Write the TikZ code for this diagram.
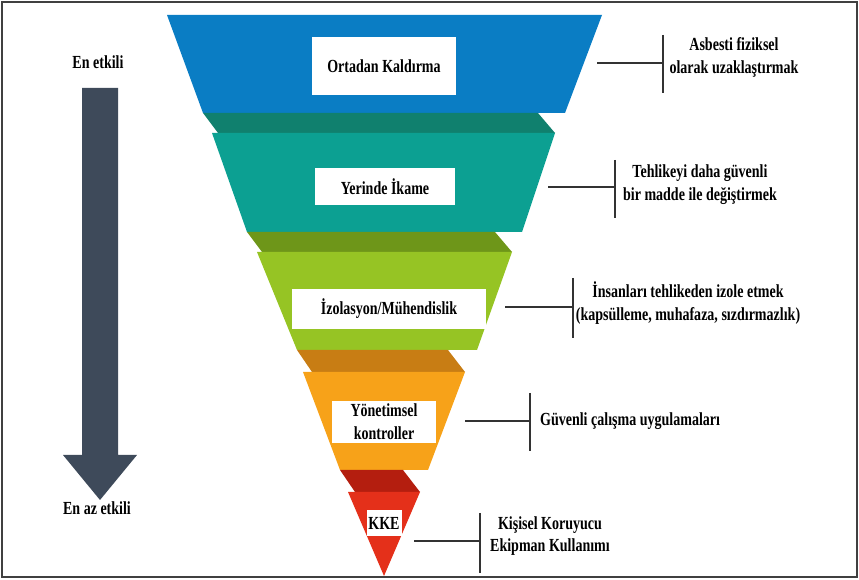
\documentclass[tikz,border=0pt]{standalone}
\usepackage{fontspec}
\setmainfont{Liberation Serif}[FakeStretch=0.76]
\usetikzlibrary{positioning,calc}

\definecolor{BlueTop}{HTML}{0A7DC4}
\definecolor{TealLid}{HTML}{10806E}
\definecolor{TealTop}{HTML}{0CA092}
\definecolor{GreenLid}{HTML}{6E9619}
\definecolor{GreenTop}{HTML}{96C424}
\definecolor{OrangeLid}{HTML}{C87D14}
\definecolor{OrangeTop}{HTML}{F7A219}
\definecolor{RedLid}{HTML}{B41E0F}
\definecolor{RedTop}{HTML}{E4301A}
\definecolor{ArrowGray}{HTML}{3E4A5A}

\begin{document}
\begin{tikzpicture}[x=0.02cm, y=-0.02cm,
    every node/.style={font=\fontsize{10.5}{13}\selectfont\bfseries},
    box/.style={fill=white, inner sep=0pt, align=center},
    desc/.style={align=center, inner sep=1pt},
    tick/.style={line width=0.9pt, black!80}]
    \useasboundingbox (0,0) rectangle (859,580);
    \draw[line width=1pt, black!75] (2,2) rectangle (857,577);

    % funnel layers, top to bottom
    \fill[BlueTop] (167,15) -- (602,15) -- (565,113) -- (203,113) -- cycle;
    \fill[TealLid] (203,113) -- (538,113) -- (555,133) -- (218,133) -- cycle;
    \fill[TealTop] (212,133) -- (555,133) -- (522,232) -- (247,232) -- cycle;
    \fill[GreenLid] (247,232) -- (495,232) -- (512,252) -- (262,252) -- cycle;
    \fill[GreenTop] (257,252) -- (512,252) -- (477,350) -- (297,350) -- cycle;
    \fill[OrangeLid] (297,350) -- (448,350) -- (465,372) -- (312,372) -- cycle;
    \fill[OrangeTop] (303,372) -- (465,372) -- (428,470) -- (340,470) -- cycle;
    \fill[RedLid] (340,470) -- (403,470) -- (420,492) -- (355,492) -- cycle;
    \fill[RedTop] (348,492) -- (420,492) -- (384,576) -- cycle;

    % labels on the layers
    \node[box, minimum width=2.9cm, minimum height=1.16cm] (Ortadan) at (384,66) {Ortadan Kaldırma};
    \node[box, minimum width=2.82cm, minimum height=0.74cm] (Ikame) at (385,187) {Yerinde İkame};
    \node[box, minimum width=3.9cm, minimum height=0.8cm] (Izolasyon) at (389,309) {İzolasyon/Mühendislik};
    \node[box, minimum width=2.08cm, minimum height=0.84cm] (Yonetim) at (384,422) {Yönetimsel\\kontroller};
    \node[box, minimum width=0.7cm, minimum height=0.54cm] (KKE) at (384,523) {KKE};

    % explanations on the right
    \node[desc] (D1) at (734,57) {Asbesti fiziksel\\olarak uzaklaştırmak};
    \coordinate (S1) at (597,63);
    \coordinate (T1) at (663,35);
    \coordinate (B1) at (663,93);
    \draw[tick] (S1) -- (S1 -| T1);
    \draw[tick] (T1) -- (B1);

    \node[desc] (D2) at (700,185) {Tehlikeyi daha güvenli\\bir madde ile değiştirmek};
    \coordinate (S2) at (548,187);
    \coordinate (T2) at (615,160);
    \coordinate (B2) at (615,218);
    \draw[tick] (S2) -- (S2 -| T2);
    \draw[tick] (T2) -- (B2);

    \node[desc] (D3) at (688,303) {İnsanları tehlikeden izole etmek\\(kapsülleme, muhafaza, sızdırmazlık)};
    \coordinate (S3) at (505,307);
    \coordinate (T3) at (573,278);
    \coordinate (B3) at (573,338);
    \draw[tick] (S3) -- (S3 -| T3);
    \draw[tick] (T3) -- (B3);

    \node[desc, anchor=west] (D4) at (538,421) {Güvenli çalışma uygulamaları};
    \coordinate (S4) at (465,421);
    \coordinate (T4) at (530,393);
    \coordinate (B4) at (530,451);
    \draw[tick] (S4) -- (S4 -| T4);
    \draw[tick] (T4) -- (B4);

    \node[desc] (D5) at (550,536) {Kişisel Koruyucu\\Ekipman Kullanımı};
    \coordinate (S5) at (414,541);
    \coordinate (T5) at (480,513);
    \coordinate (B5) at (480,573);
    \draw[tick] (S5) -- (S5 -| T5);
    \draw[tick] (T5) -- (B5);

    % effectiveness arrow
    \node (Most) at (98,62) {En etkili};
    \node (Least) at (97,508) {En az etkili};
    \fill[ArrowGray] (82,88) -- (118,88) -- (118,455) -- (137,455) -- (100,500)
        -- (63,455) -- (82,455) -- cycle;
\end{tikzpicture}
\end{document}
